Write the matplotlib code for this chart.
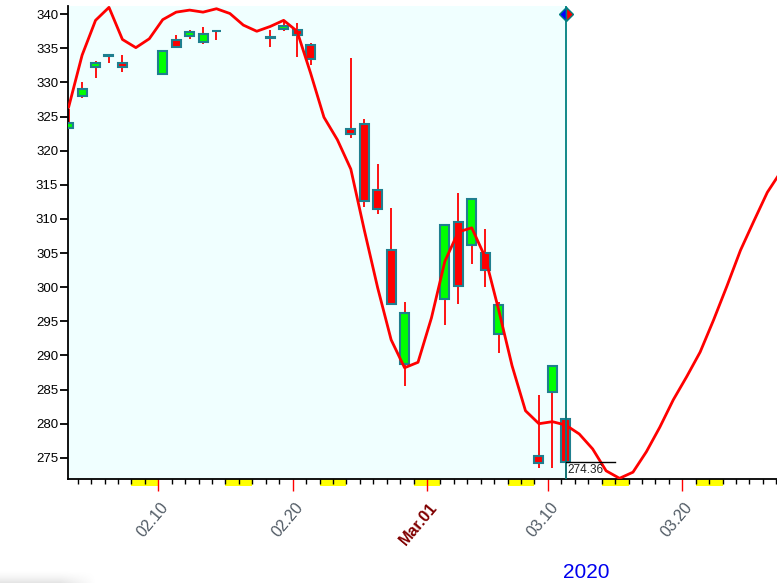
import numpy as np
import pandas as pd
import matplotlib
matplotlib.use('Agg')
import matplotlib.pyplot as plt
import matplotlib.dates as mdates
from matplotlib.patches import Rectangle
from matplotlib.ticker import FixedLocator, MultipleLocator
from matplotlib.transforms import ScaledTranslation

plt.rcParams['font.family'] = ['Liberation Sans', 'DejaVu Sans']

# daily candles
trade_dates = ['2020-02-03', '2020-02-04', '2020-02-05', '2020-02-06', '2020-02-07',
               '2020-02-10', '2020-02-11', '2020-02-12', '2020-02-13', '2020-02-14',
               '2020-02-18', '2020-02-19', '2020-02-20', '2020-02-21',
               '2020-02-24', '2020-02-25', '2020-02-26', '2020-02-27', '2020-02-28',
               '2020-03-02', '2020-03-03', '2020-03-04', '2020-03-05', '2020-03-06',
               '2020-03-09', '2020-03-10', '2020-03-11']
opens = [323.35, 328.07, 332.27, 333.91, 332.82, 331.23, 336.17, 336.83, 335.86, 337.51,
         336.51, 337.79, 337.74, 335.47, 323.14, 323.94, 314.18, 305.46, 288.70,
         298.21, 309.50, 306.12, 304.98, 293.15, 275.30, 284.64, 280.70]
highs = [326.16, 330.01, 333.09, 334.19, 333.99, 334.75, 337.02, 337.64, 338.12, 337.73,
         337.67, 339.08, 338.64, 335.81, 333.56, 324.65, 318.11, 311.56, 297.89,
         309.16, 313.84, 313.10, 308.47, 297.79, 284.19, 288.52, 281.94]
lows = [323.22, 327.72, 330.67, 332.80, 331.60, 331.19, 335.05, 336.43, 335.56, 336.20,
        335.21, 337.48, 333.68, 332.58, 321.87, 311.69, 310.70, 297.51, 285.54,
        294.46, 297.57, 303.33, 300.01, 290.31, 273.45, 273.45, 270.88]
closes = [324.12, 329.06, 332.86, 333.98, 332.20, 334.68, 335.26, 337.42, 337.06, 337.60,
          336.73, 338.34, 336.95, 333.48, 322.42, 312.65, 311.50, 297.51, 296.26,
          309.09, 300.24, 312.86, 302.46, 297.46, 274.23, 288.42, 274.36]

# red curve, one point per calendar day 2020-02-03 .. 2020-03-27
curve_days = pd.date_range('2020-02-03', '2020-03-27', freq='D')
curve_vals = [326.4, 334.0, 339.1, 341.0, 336.3, 335.1, 336.4, 339.2, 340.3, 340.6,
              340.3, 340.8, 340.1, 338.4, 337.5, 338.2, 339.1, 337.5, 331.4, 324.9,
              321.6, 317.3, 308.4, 299.9, 292.3, 288.2, 289.0,
              295.5, 303.8, 308.1, 308.7, 304.4, 296.7, 288.5, 281.9, 280.0, 280.3,
              279.8, 278.5, 276.3, 273.1, 272.0, 272.9, 275.9, 279.5, 283.5, 286.9,
              290.5, 295.2, 300.2, 305.4, 309.7, 313.9, 316.9]

weekend_starts = ['2020-02-08', '2020-02-15', '2020-02-22', '2020-02-29',
                  '2020-03-07', '2020-03-14', '2020-03-21']
major_dates = ['2020-02-10', '2020-02-20', '2020-03-01', '2020-03-10', '2020-03-20']
major_labels = ['02.10', '02.20', 'Mar.01', '03.10', '03.20']
last_close = 274.36
cursor_date = '2020-03-11'
line_end_date = '2020-03-15'

shift = 0.33  # bars sit a bit after midnight
tx = mdates.date2num(pd.to_datetime(trade_dates)) + shift
cx = mdates.date2num(curve_days) + shift
cursor_x = mdates.date2num(pd.Timestamp(cursor_date)) + shift + 0.05

fig = plt.figure(figsize=(7.77, 5.83), dpi=100)
ax = fig.add_axes([68.3 / 777, 1 - 479 / 583, 1 - 68.3 / 777, 473 / 583])
ax.set_facecolor('white')

x_left = mdates.date2num(pd.Timestamp('2020-02-03')) + 0.302
x_right = mdates.date2num(pd.Timestamp('2020-03-27')) + 0.05
ax.set_xlim(x_left, x_right)
ax.set_ylim(271.9, 341.2)

ax.axvspan(x_left, cursor_x, color='#f0ffff', zorder=0, lw=0)

edge = '#1f7f8f'
for x, o, h, l, c in zip(tx, opens, highs, lows, closes):
    ax.vlines(x, l, h, color='red', lw=1.3, zorder=2)
    fill = '#00ff00' if c >= o else '#ff0000'
    ax.bar(x, abs(c - o), bottom=min(o, c), width=0.67, color=fill,
           edgecolor=edge, linewidth=1.5, zorder=3)

ax.plot(cx, curve_vals, color='red', lw=2, zorder=4)

# cursor line with marker and last close
ax.axvline(cursor_x, color='#008080', lw=1.3, zorder=5)
ax.plot(cursor_x, 340, marker='D', ms=7, fillstyle='left', mfc='blue',
        mfcalt='red', mec='#008080', mew=1, clip_on=False, zorder=6)
end_x = mdates.date2num(pd.Timestamp(line_end_date))
ax.plot([cursor_x, end_x], [last_close, last_close], color='black', lw=1, zorder=5)
ax.text(cursor_x + 0.08, last_close - 0.25, f'{last_close:.2f}', va='top', ha='left',
        fontsize=8.5, color='#222222', zorder=6)

# weekend markers under the axis
for d in weekend_starts:
    x0 = mdates.date2num(pd.Timestamp(d))
    ax.add_patch(Rectangle((x0, -0.0158), 2, 0.0158, transform=ax.get_xaxis_transform(),
                           clip_on=False, facecolor='#ffff00', edgecolor='none', zorder=1))

for s in ['top', 'right']:
    ax.spines[s].set_visible(False)
for s in ['left', 'bottom']:
    ax.spines[s].set_linewidth(1.3)
    ax.spines[s].set_color('black')

ax.yaxis.set_major_locator(MultipleLocator(5))
ax.tick_params(axis='y', direction='out', length=5.8, width=1.3, labelsize=9.5, pad=1.5)

ax.xaxis.set_major_locator(FixedLocator(mdates.date2num(pd.to_datetime(major_dates))))
ax.xaxis.set_minor_locator(mdates.DayLocator())
ax.set_xticklabels(major_labels)
ax.tick_params(axis='x', which='major', direction='out', length=8.6, width=1,
               color='red', labelsize=11.5, pad=6.5)
ax.tick_params(axis='x', which='minor', direction='out', length=3.6, width=1, color='black')
offset = ScaledTranslation(0.02, 0, fig.dpi_scale_trans)
for lab in ax.get_xticklabels():
    lab.set_rotation(50)
    lab.set_ha('right')
    lab.set_rotation_mode('anchor')
    lab.set_transform(lab.get_transform() + offset)
    if lab.get_text().startswith('Mar'):
        lab.set_color('#800000')
        lab.set_fontweight('bold')
    else:
        lab.set_color('#505a64')

fig.text(586 / 777, 1 - 572 / 583, '2020', ha='center', va='center',
         color='#0000ee', fontsize=15)

# faint shadow bottom-left
sh = fig.add_axes([0, 0, 95 / 777, 13 / 583])
sh.axis('off')
vert = np.linspace(0, 1, 13)[:, None] ** 1.5
horiz = np.clip((95 - np.arange(95)) / 35, 0, 1)[None, :]
img = np.zeros((13, 95, 4))
img[..., :3] = 0.55
img[..., 3] = 0.22 * vert * horiz
sh.imshow(img, aspect='auto', extent=[0, 1, 0, 1])

fig.savefig('out.png', dpi=100)
